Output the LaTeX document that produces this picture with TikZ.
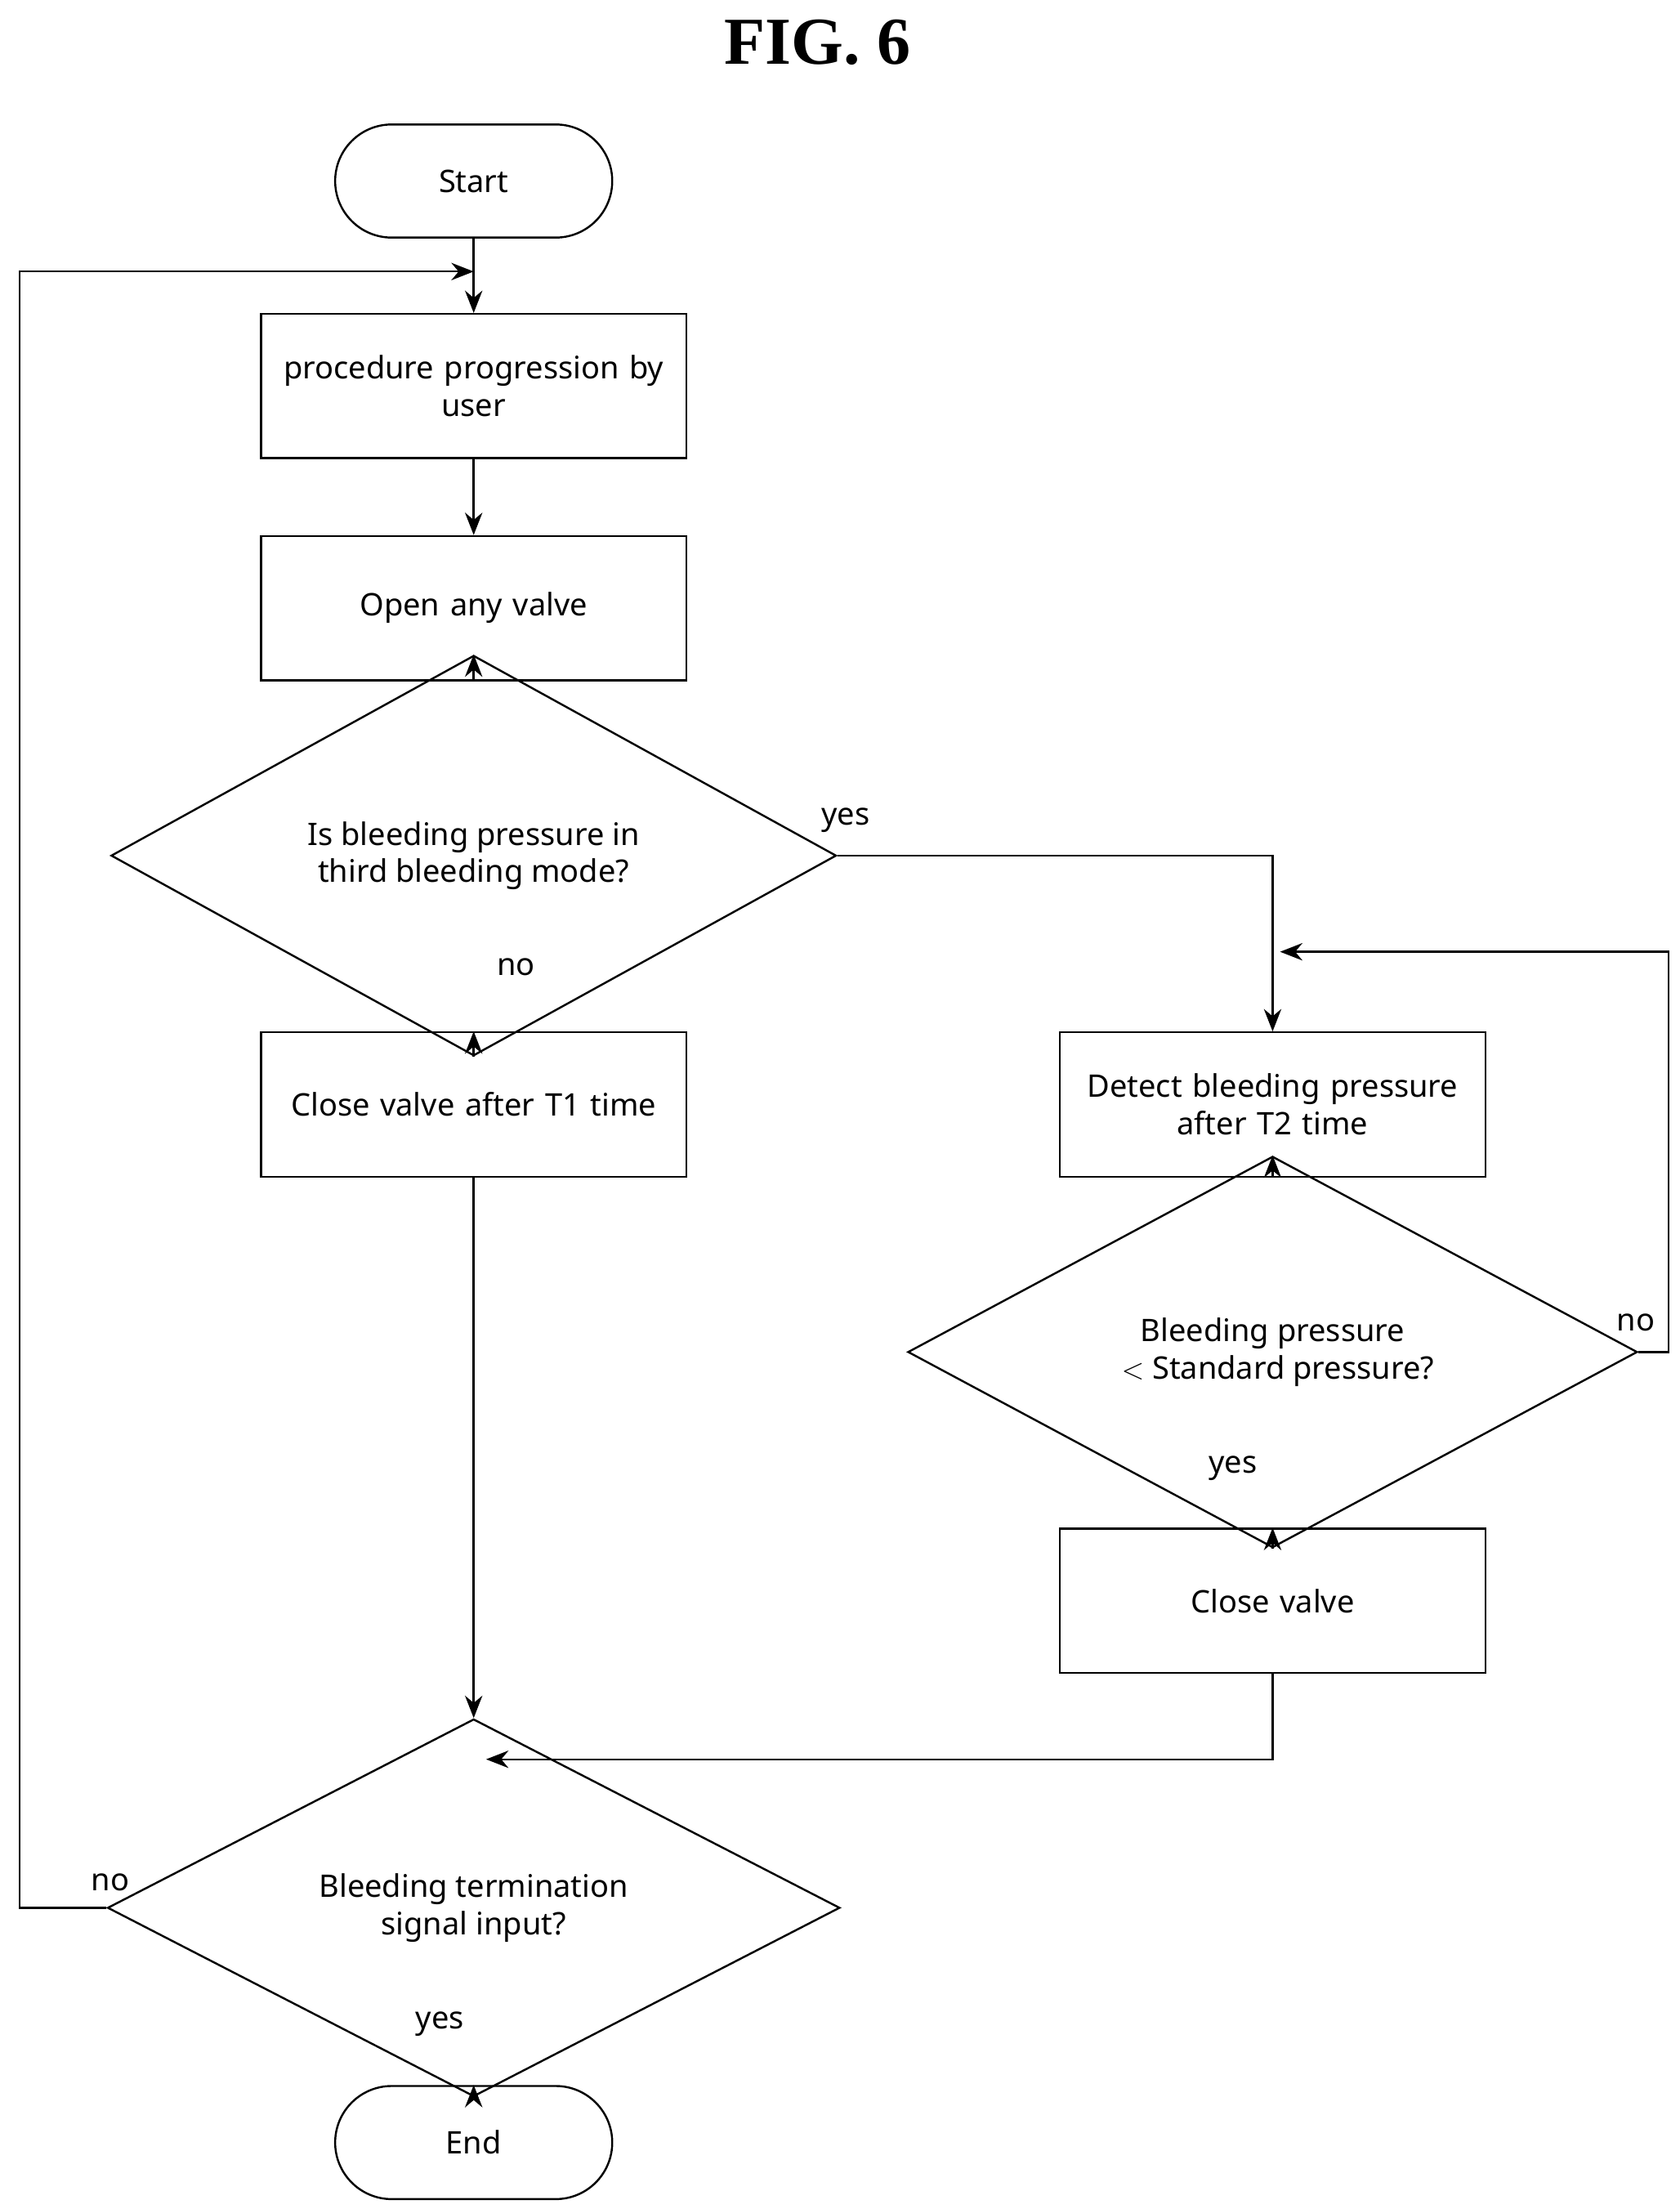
\documentclass[tikz,border=0pt]{standalone}
\usepackage{fontspec}
\setmainfont{Liberation Serif}
\newfontfamily\flowfont{Noto Sans}
\usetikzlibrary{shapes.geometric,arrows.meta}

\begin{document}
\begin{tikzpicture}[x=0.02cm,y=-0.02cm,
    every node/.style={font=\flowfont\fontsize{12.5}{15}\selectfont},
    procbox/.style={draw,thick,minimum width=6.02cm,minimum height=2.04cm,align=center,text width=5.6cm},
    endbox/.style={draw,thick,rounded corners=0.8cm,minimum width=3.92cm,minimum height=1.6cm},
    test/.style={draw,thick,diamond,inner sep=0pt,align=center},
    flow/.style={thick,-{Stealth[length=9pt,width=7pt]}}]
    \useasboundingbox (0,0) rectangle (1188,1562);
    % title
    \node[font=\bfseries\fontsize{27}{30}\selectfont] (title) at (578,30) {FIG. 6};
    % left column
    \node[endbox] (start) at (335,128) {Start};
    \node[procbox] (user) at (335,273) {procedure progression by\\user};
    \node[procbox] (open) at (335,430) {Open any valve};
    \node[test,minimum width=10.26cm,minimum height=2.72cm] (mode) at (335,605) {Is bleeding pressure in\\third bleeding mode?};
    \node[procbox] (closeT1) at (335,781) {Close valve after T1 time};
    \node[test,minimum width=10.36cm,minimum height=2.76cm] (signal) at (335,1349) {Bleeding termination\\signal input?};
    \node[endbox] (end) at (335,1515) {End};
    % right column
    \node[procbox] (detect) at (900,781) {Detect bleeding pressure\\after T2 time};
    \node[test,minimum width=10.32cm,minimum height=2.74cm] (cmp) at (900,956) {Bleeding pressure\\\,\,$<$ Standard pressure?};
    \node[procbox] (close) at (900,1132) {Close valve};
    % helper points
    \coordinate (top) at (335,192);
    \coordinate (join) at (335,1244);
    \coordinate (back) at (900,673);
    % connectors
    \draw[thick] (start) -- (top);
    \draw[flow] (top) -- (user);
    \draw[flow] (user) -- (open);
    \draw[flow] (open) -- (mode);
    \draw[flow] (mode) -- (closeT1);
    \draw[flow] (closeT1) -- (signal);
    \draw[flow] (signal) -- (end);
    \draw[flow] (mode.east) -| (detect.north);
    \draw[flow] (detect) -- (cmp);
    \draw[flow] (cmp) -- (close);
    \draw[flow] (close.south) |- ([xshift=5]join);
    \draw[flow] (cmp.east) -- (1180,956) |- ([xshift=3]back);
    \draw[flow] (signal.west) -- (14,1349) |- (top);
    % labels
    \node (yes1) at (598,580) {yes};
    \node (no1) at (365,684) {no};
    \node (no2) at (1157,935) {no};
    \node (yes2) at (872,1038) {yes};
    \node (no3) at (78,1331) {no};
    \node (yes3) at (311,1431) {yes};
\end{tikzpicture}
\end{document}
